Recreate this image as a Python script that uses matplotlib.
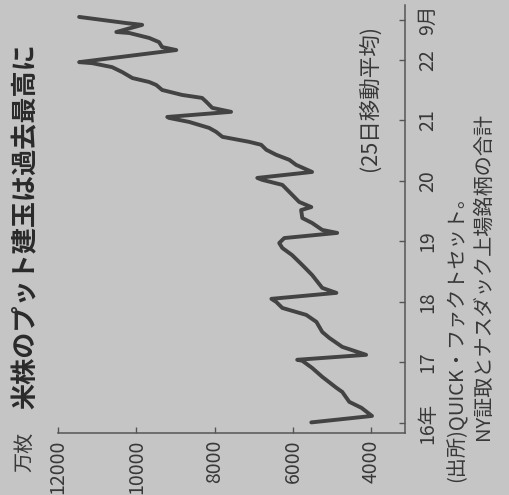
import matplotlib
matplotlib.use("Agg")
import matplotlib.pyplot as plt
import matplotlib.dates as mdates
import pandas as pd

# 25-day moving average of put open interest, US listed stocks (10k contracts)
dates = [
    "2016-01-04", "2016-02-12", "2016-04-01", "2016-05-07", "2016-07-06", "2016-07-31",
    "2016-10-05", "2016-11-28", "2017-01-10", "2017-01-16", "2017-02-15", "2017-04-04",
    "2017-05-28", "2017-07-03", "2017-09-02", "2017-10-14", "2017-11-25", "2018-01-01",
    "2018-01-19", "2018-02-24", "2018-03-26", "2018-06-12", "2018-08-11", "2018-10-10",
    "2018-11-22", "2018-12-22", "2019-01-21", "2019-02-21", "2019-03-11", "2019-04-22",
    "2019-05-22", "2019-07-09", "2019-07-27", "2019-08-27", "2019-10-26", "2019-12-08",
    "2020-01-07", "2020-01-19", "2020-02-24", "2020-04-07", "2020-05-07", "2020-06-07",
    "2020-07-07", "2020-08-06", "2020-08-24", "2020-09-23", "2020-10-23", "2020-11-16",
    "2020-12-22", "2021-01-15", "2021-01-21", "2021-02-21", "2021-03-17", "2021-04-22",
    "2021-05-16", "2021-06-03", "2021-07-03", "2021-08-02", "2021-08-20", "2021-09-13",
    "2021-10-19", "2021-11-18", "2021-12-12", "2021-12-18", "2022-03-01", "2022-03-19",
    "2022-04-18", "2022-05-13", "2022-06-12", "2022-06-18", "2022-07-31", "2022-08-11",
    "2022-09-17",
]
values = [
    5530, 3980, 4250, 4560, 4740, 4890,
    5250, 5510, 5760, 5890, 4130, 4740,
    5070, 5250, 5400, 5660, 6270, 6430,
    6550, 4890, 5250, 5510, 5760, 6020,
    6270, 6350, 6220, 4870, 5250, 5510,
    5760, 5790, 5530, 5840, 6090, 6270,
    6780, 6910, 5510, 5920, 6090, 6430,
    6680, 6810, 7120, 7800, 7960, 8140,
    8650, 9160, 9210, 7580, 8060, 8210,
    8320, 8830, 9340, 9490, 9670, 10100,
    10360, 10620, 11130, 11460, 8980, 9340,
    9420, 9670, 10180, 10510, 9850, 10260,
    11460,
]

value_ticks = [4000, 6000, 8000, 10000, 12000]
time_ticks = ["2016-01-01", "2017-01-01", "2018-01-01", "2019-01-01",
              "2020-01-01", "2021-01-01", "2022-01-01", "2022-09-01"]
time_labels = ["16年", "17", "18", "19", "20", "21", "22", "9月"]

title = "米株のプット建玉は過去最高に"
unit = "万枚"
note = "(25日移動平均)"
source1 = "(出所)QUICK・ファクトセット。"
source2 = "NY証取とナスダック上場銘柄の合計"

plt.rcParams['font.family'] = ['Noto Sans CJK JP', 'DejaVu Sans']
num_font = ['Liberation Sans Narrow', 'Noto Sans CJK JP', 'DejaVu Sans']

BG = '#c5c5c5'
INK = '#383838'
W, H = 510, 495

fig = plt.figure(figsize=(W / 100, H / 100), dpi=100, facecolor=BG)


def fx(x):
    return x / W


def fy(y):
    return 1 - y / H


# page is laid out turned a quarter turn: values run right-to-left, time runs upward
left, right, top, bottom = 58, 405, 5, 433
ax = fig.add_axes([fx(left), fy(bottom), fx(right) - fx(left), fy(top) - fy(bottom)])
ax.set_facecolor('none')

t = mdates.date2num(pd.to_datetime(dates))
ax.plot(values, t, color='#434343', lw=2.8, solid_joinstyle='round', solid_capstyle='round')

ax.set_xlim(12000, 3137)
ax.set_ylim(mdates.date2num(pd.Timestamp("2015-11-01")), mdates.date2num(pd.Timestamp("2022-11-28")))

for s in ['top', 'left']:
    ax.spines[s].set_visible(False)
for s in ['bottom', 'right']:
    ax.spines[s].set_color('#555555')
    ax.spines[s].set_linewidth(1.1)

ax.set_xticks(value_ticks)
ax.set_xticklabels([str(v) for v in value_ticks], rotation=90, family=num_font, fontsize=14, color=INK)
ax.yaxis.tick_right()
ax.set_yticks(mdates.date2num(pd.to_datetime(time_ticks)))
ax.set_yticklabels(time_labels, rotation=90, family=num_font, fontsize=14, color=INK)
for lab in ax.get_yticklabels():
    lab.set_va('center')
ax.tick_params(axis='x', direction='in', length=4, width=1, color='#555555', pad=5)
ax.tick_params(axis='y', direction='in', length=4, width=1, color='#555555', pad=9)

fig.text(fx(26), fy(226), title, rotation=90, ha='center', va='center',
         fontsize=18.8, fontweight='bold', color='#2a2a2a')
fig.text(fx(25), fy(452), unit, rotation=90, ha='center', va='center', fontsize=14.5, color=INK)
fig.text(fx(370), fy(98), note, rotation=90, ha='center', va='center', fontsize=15.5, color=INK)
fig.text(fx(457), fy(482), source1, rotation=90, ha='center', va='bottom', fontsize=14.5, color=INK)
fig.text(fx(483), fy(440), source2, rotation=90, ha='center', va='bottom', fontsize=14.5, color=INK)

fig.savefig('out.png', dpi=100, facecolor=BG)
